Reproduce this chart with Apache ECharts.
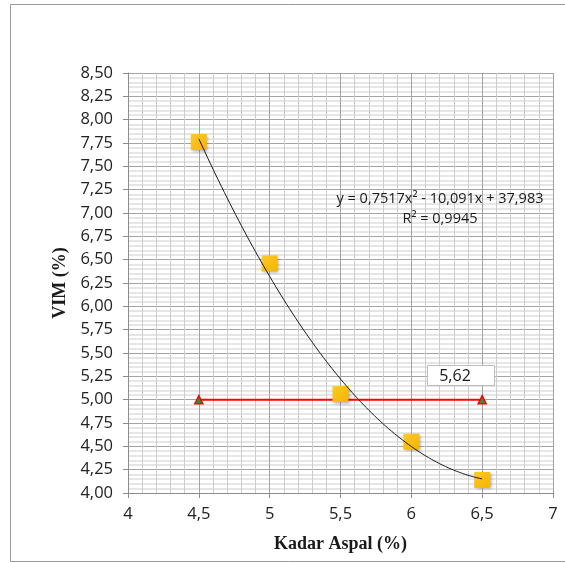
<!DOCTYPE html>
<html>
<head>
<meta charset="utf-8">
<script src="https://cdn.jsdelivr.net/npm/echarts@6/dist/echarts.min.js"></script>
<style>
  html, body { margin: 0; padding: 0; background: #fff; }
  #chart { width: 565px; height: 563px; }
</style>
</head>
<body>
<div id="chart"></div>
<script>
// Asphalt content (%) and measured VIM (%)
const kadarAspal = [4.5, 5.0, 5.5, 6.0, 6.5];
const vim = [7.76, 6.46, 5.06, 4.55, 4.14];

// VIM specification limit line
const batasX = [4.5, 6.5];
const batasVim = [5.0, 5.0];

// Polynomial trend (order 2) coefficients: a*x^2 + b*x + c
const trendCoef = [0.7517, -10.091, 37.983];
const trendR2 = 0.9945;
const trendRange = [4.5, 6.5];

// Asphalt content where the trend reaches the limit
const kadarOptimum = 5.62;

const fmt = (v, d) => v.toFixed(d).replace('.', ',');

const trendData = [];
for (let i = 0; i <= 100; i++) {
  const x = trendRange[0] + (trendRange[1] - trendRange[0]) * i / 100;
  trendData.push([x, trendCoef[0] * x * x + trendCoef[1] * x + trendCoef[2]]);
}

const labelFont = '"Open Sans", "Liberation Sans", sans-serif';
const titleFont = '"Liberation Serif", "DejaVu Serif", serif';

const chart = echarts.init(document.getElementById('chart'));
chart.setOption({
  animation: false,
  backgroundColor: '#fff',
  grid: { left: 128, right: 12, top: 73, bottom: 70 },
  xAxis: {
    type: 'value', min: 4, max: 7, interval: 0.5,
    name: 'Kadar Aspal (%)', nameLocation: 'middle', nameGap: 42,
    nameTextStyle: { fontFamily: titleFont, fontWeight: 'bold', fontSize: 18, color: '#1a1a1a' },
    axisLine: { show: true, lineStyle: { color: '#8c8c8c', width: 1 } },
    axisTick: { show: true, length: 5, lineStyle: { color: '#8c8c8c' } },
    axisLabel: { margin: 13, fontFamily: labelFont, fontSize: 16.5, color: '#222',
      formatter: v => String(+v.toFixed(1)).replace('.', ',') },
    splitLine: { show: true, lineStyle: { color: '#a3a3a3', width: 1 } },
    minorTick: { show: false, splitNumber: 5 },
    minorSplitLine: { show: true, lineStyle: { color: '#cdcdcd', width: 1 } }
  },
  yAxis: {
    type: 'value', min: 4, max: 8.5, interval: 0.25,
    name: 'VIM (%)', nameLocation: 'middle', nameGap: 57, nameRotate: 90,
    nameTextStyle: { fontFamily: titleFont, fontWeight: 'bold', fontSize: 18, color: '#1a1a1a' },
    axisLine: { show: true, lineStyle: { color: '#8c8c8c', width: 1 } },
    axisTick: { show: true, length: 5, lineStyle: { color: '#8c8c8c' } },
    axisLabel: { margin: 15, fontFamily: labelFont, fontSize: 16.5, color: '#222',
      formatter: v => fmt(v, 2) },
    splitLine: { show: true, lineStyle: { color: '#a3a3a3', width: 1 } },
    minorTick: { show: false, splitNumber: 5 },
    minorSplitLine: { show: true, lineStyle: { color: '#dedede', width: 1.5 } }
  },
  series: [
    {
      name: 'Batas',
      type: 'line',
      data: batasX.map((x, i) => [x, batasVim[i]]),
      symbol: 'triangle', symbolSize: 8,
      itemStyle: { color: '#2f8f3f', borderColor: '#ff0000', borderWidth: 1.5 },
      lineStyle: { color: '#ff0000', width: 2 },
      z: 2
    },
    {
      name: 'VIM',
      type: 'scatter',
      data: kadarAspal.map((x, i) => [x, vim[i]]),
      symbol: 'rect', symbolSize: 16,
      itemStyle: {
        color: new echarts.graphic.LinearGradient(0, 0, 1, 1, [
          { offset: 0, color: '#ffc929' }, { offset: 1, color: '#f5b400' }
        ]),
        opacity: 1,
        shadowColor: 'rgba(0,0,0,0.3)', shadowBlur: 3, shadowOffsetX: 1.5, shadowOffsetY: 1.5
      },
      emphasis: { disabled: true },
      z: 3
    },
    {
      name: 'Trend',
      type: 'line',
      data: trendData,
      showSymbol: false, smooth: false,
      lineStyle: { color: '#1a1a1a', width: 1 },
      z: 4
    }
  ],
  graphic: [
    // chart frame
    { type: 'rect', shape: { x: 10.5, y: 4.5, width: 560, height: 557 },
      style: { fill: null, stroke: '#9a9a9a', lineWidth: 1 }, silent: true, z: 0 },
    // trendline equation
    { type: 'text', x: 440, y: 199, z: 10,
      style: { text: 'y = ' + fmt(trendCoef[0], 4) + 'x² - ' + fmt(-trendCoef[1], 3) + 'x + ' + fmt(trendCoef[2], 3),
        fontFamily: labelFont, fontSize: 14.5, fill: '#1a1a1a', align: 'center', verticalAlign: 'middle' } },
    { type: 'text', x: 440, y: 219, z: 10,
      style: { text: 'R² = ' + fmt(trendR2, 4),
        fontFamily: labelFont, fontSize: 14.5, fill: '#1a1a1a', align: 'center', verticalAlign: 'middle' } },
    // optimum content label box
    { type: 'rect', shape: { x: 427.5, y: 365.5, width: 67, height: 20 }, z: 10,
      style: { fill: '#fff', stroke: '#bdbdbd', lineWidth: 1 } },
    { type: 'text', x: 455, y: 376, z: 11,
      style: { text: fmt(kadarOptimum, 2), fontFamily: labelFont, fontSize: 16, fill: '#1a1a1a',
        align: 'center', verticalAlign: 'middle' } }
  ]
});
</script>
</body>
</html>
